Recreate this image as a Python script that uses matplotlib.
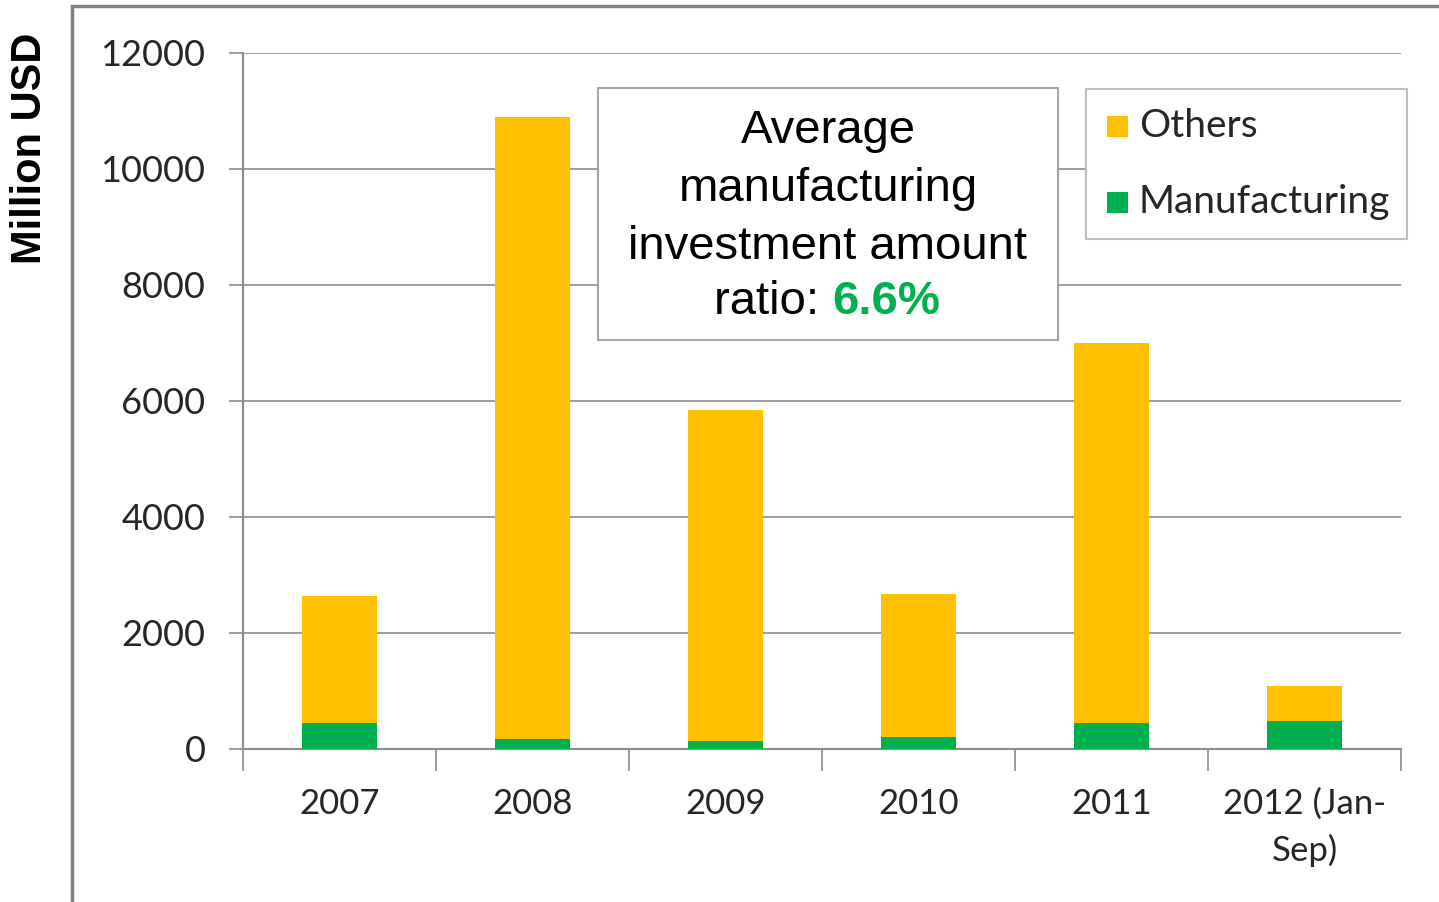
import matplotlib.pyplot as plt
from matplotlib.patches import Rectangle
import numpy as np

years = ['2007', '2008', '2009', '2010', '2011', '2012 (Jan-\nSep)']
total = [2640, 10900, 5850, 2680, 7000, 1090]
manufacturing = [450, 170, 140, 210, 450, 480]
others = [t - m for t, m in zip(total, manufacturing)]

c_others = '#FFC000'
c_manu = '#00B050'
gray = '#8C8C8C'

W, H = 1439, 902


def fx(px):
    return px / W


def fy(py):
    return 1 - py / H


fig = plt.figure(figsize=(14.39, 9.02), dpi=100)
fig.patch.set_facecolor('white')

# outer frame (only left/top visible)
fig.patches.append(Rectangle((fx(72), -0.1), 1.2, fy(6) + 0.1,
                             transform=fig.transFigure, fill=False,
                             edgecolor='#808080', lw=2.5))

ax = fig.add_axes([fx(243), fy(749), fx(1401) - fx(243), fy(53) - fy(749)])
x = np.arange(len(years))
ax.bar(x, manufacturing, width=0.39, color=c_manu, zorder=3)
ax.bar(x, others, width=0.39, bottom=manufacturing, color=c_others, zorder=3)

ax.set_xlim(-0.5, 5.5)
ax.set_ylim(0, 12000)
ax.set_yticks(range(0, 12001, 2000))
ax.yaxis.grid(True, color=gray, lw=1.2, zorder=0)

ax.set_xticks(x)
ax.set_xticklabels(years, fontfamily='Lato', fontsize=25, color='#262626',
                   linespacing=1.5, va='top')
ax.tick_params(axis='x', length=0, pad=28)
ax.set_xticks(np.arange(-0.5, 6, 1), minor=True)
ax.tick_params(axis='x', which='minor', length=16, width=1.2, color=gray,
               direction='out')
ax.tick_params(axis='y', length=10, width=1.2, color=gray, pad=17,
               labelsize=26, labelcolor='#262626')
for lab in ax.get_yticklabels():
    lab.set_fontfamily('Lato')

for s in ['top', 'right']:
    ax.spines[s].set_visible(False)
for s in ['left', 'bottom']:
    ax.spines[s].set_color(gray)
    ax.spines[s].set_linewidth(1.5)

fig.text(fx(30), fy(148), 'Million USD', rotation=90,
         ha='center', va='center', fontfamily='Liberation Sans',
         fontweight='bold', fontsize=30)

# annotation box
fig.patches.append(Rectangle((fx(598), fy(340)), fx(1058) - fx(598),
                             fy(88) - fy(340), transform=fig.transFigure,
                             facecolor='white', edgecolor='#A6A6A6', lw=1.5,
                             zorder=5))
box_lines = ['Average', 'manufacturing', 'investment amount']
for i, line in enumerate(box_lines):
    fig.text(fx(828), fy(131 + 58 * i), line, ha='center', va='center',
             fontfamily='Liberation Sans', fontsize=34, zorder=6)
fig.text(fx(832), fy(302), 'ratio: ', ha='right', va='center',
         fontfamily='Liberation Sans', fontsize=34, zorder=6)
fig.text(fx(832), fy(302), '6.6%', ha='left', va='center',
         fontfamily='Liberation Sans', fontsize=34, fontweight='bold',
         color=c_manu, zorder=6)

# legend
fig.patches.append(Rectangle((fx(1086), fy(239)), fx(1407) - fx(1086),
                             fy(89) - fy(239), transform=fig.transFigure,
                             facecolor='white', edgecolor='#BFBFBF', lw=1.5,
                             zorder=5))
legend_items = [('Others', c_others, 126), ('Manufacturing', c_manu, 202)]
for label, color, py in legend_items:
    fig.patches.append(Rectangle((fx(1107), fy(py + 11)), fx(21), 21 / H,
                                 transform=fig.transFigure, facecolor=color,
                                 edgecolor='none', zorder=6))
    fig.text(fx(1139), fy(py), label, ha='left', va='center',
             fontfamily='Lato', fontsize=28, color='#262626', zorder=6)

fig.savefig('out.png', dpi=100)
